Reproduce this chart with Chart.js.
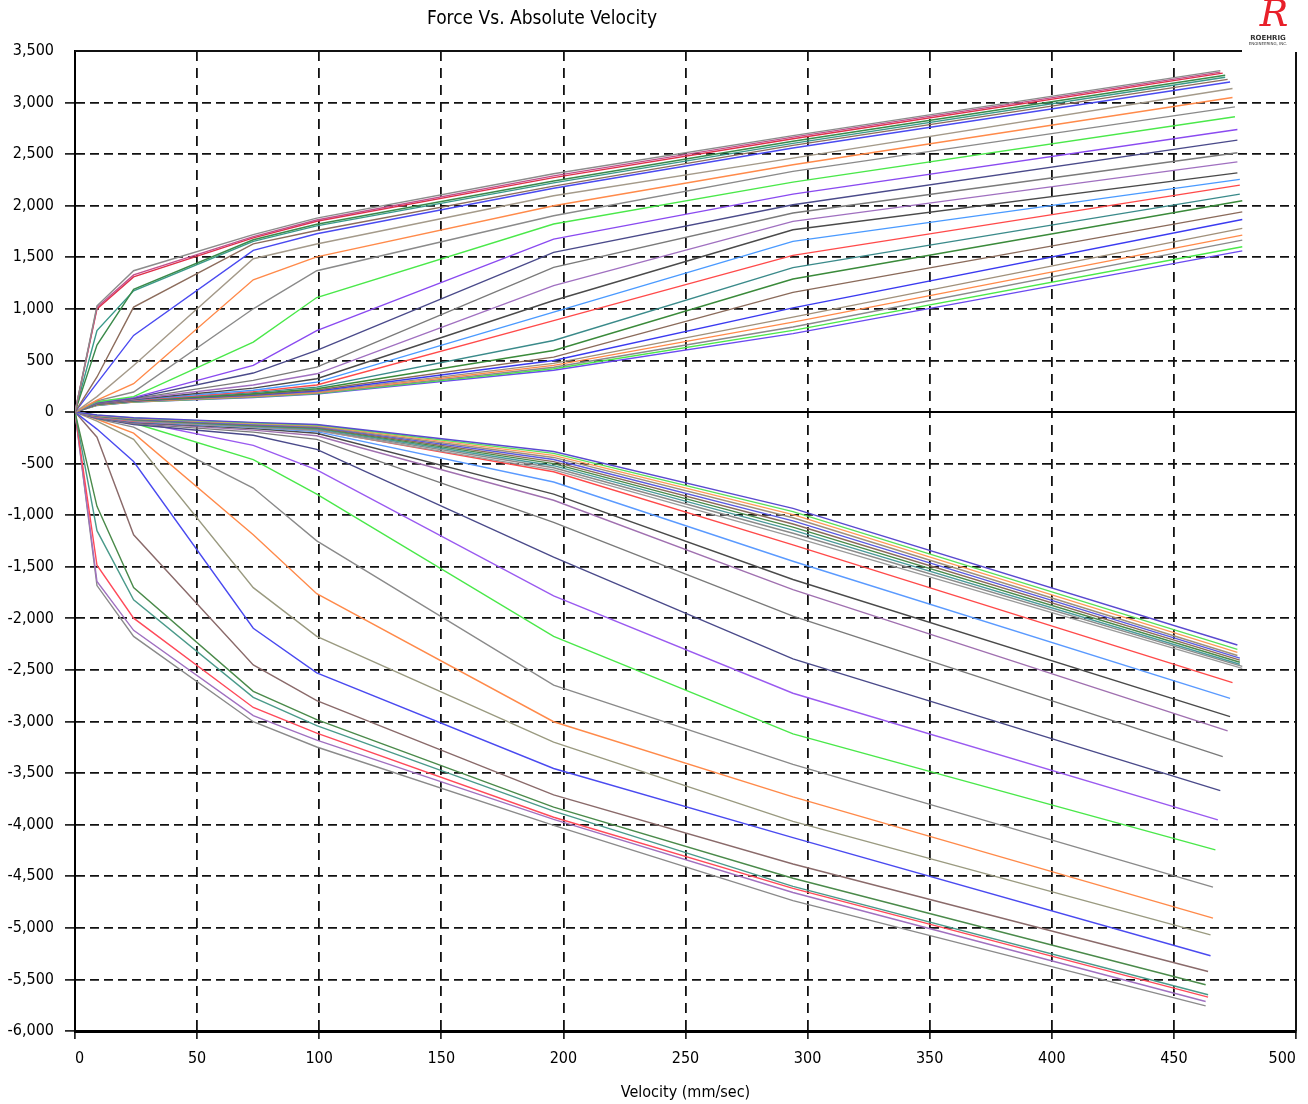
<!DOCTYPE html>
<html>
<head>
<meta charset="utf-8">
<title>Force Vs. Absolute Velocity</title>
<script src="https://cdn.jsdelivr.net/npm/chart.js@4.4.1/dist/chart.umd.min.js"></script>
<style>
  html, body { margin: 0; padding: 0; background: #fff; }
  #wrap { width: 1308px; height: 1104px; }
</style>
</head>
<body>
<div id="wrap"><canvas id="g_force" width="1308" height="1104"></canvas></div>
<script>
// sample velocities (mm/sec) shared by every curve; the last point of each curve has its own velocity
const velocities = [0, 9, 24, 73, 99, 196, 294]

// rebound side (positive force), stiffest setting first
const reboundForce = [
    [0, 1030, 1370, 1720, 1880, 2310, 2680, 3310],
    [0, 1015, 1330, 1700, 1862, 2290, 2665, 3295],
    [0, 1000, 1310, 1688, 1850, 2272, 2650, 3285],
    [0, 650, 1190, 1670, 1820, 2240, 2625, 3265],
    [0, 790, 1175, 1655, 1805, 2222, 2605, 3245],
    [0, 340, 1017, 1631, 1760, 2190, 2585, 3225],
    [0, 280, 743, 1567, 1728, 2170, 2560, 3200],
    [0, 150, 452, 1486, 1629, 2097, 2462, 3137],
    [0, 115, 275, 1282, 1505, 2000, 2397, 3049],
    [0, 108, 194, 1001, 1370, 1903, 2333, 2958],
    [0, 100, 150, 678, 1110, 1823, 2229, 2862],
    [0, 96, 140, 452, 790, 1677, 2113, 2739],
    [0, 93, 135, 378, 598, 1548, 2010, 2636],
    [0, 90, 130, 307, 435, 1403, 1929, 2513],
    [0, 88, 126, 262, 371, 1226, 1848, 2425],
    [0, 86, 122, 232, 323, 1081, 1767, 2319],
    [0, 84, 118, 212, 290, 968, 1655, 2255],
    [0, 82, 115, 198, 262, 887, 1519, 2200],
    [0, 80, 112, 188, 242, 694, 1400, 2112],
    [0, 78, 110, 178, 226, 597, 1290, 2048],
    [0, 76, 108, 170, 214, 532, 1160, 1941],
    [0, 74, 106, 164, 204, 500, 1010, 1867],
    [0, 72, 104, 158, 196, 472, 920, 1780],
    [0, 70, 102, 153, 189, 452, 872, 1715],
    [0, 68, 100, 149, 183, 434, 825, 1667],
    [0, 66, 98, 145, 179, 420, 792, 1602],
    [0, 64, 96, 141, 175, 405, 760, 1563]
]
const reboundEndVelocity = [469, 469, 470, 471, 471, 472, 473, 474, 474, 475, 475, 476, 476, 476,
    476, 476, 477, 477, 477, 478, 478, 478, 478, 478, 478, 478, 478]
const reboundColors = ["#8c8c8c", "#c2508c", "#e0304a", "#3a8a4a", "#3a9a8a", "#8c6c5c", "#4a4af0",
    "#a49a8a", "#ff8a4a", "#8a8a8a", "#4ae84a", "#8a4af0", "#4a4a8a", "#7a7a7a", "#a070c0",
    "#4a4a4a", "#4a9aff", "#ff4a4a", "#3a8a8a", "#3a8a3a", "#8a6a5a", "#3a3af0", "#a0907a",
    "#ff8a4a", "#8a8a8a", "#4ae84a", "#6a4af0"]

// compression side (negative force), softest setting first
const compressionForce = [
    [0, -28, -55, -100, -120, -382, -934, -2258],
    [0, -30, -58, -105, -126, -400, -965, -2300],
    [0, -32, -61, -110, -132, -420, -995, -2330],
    [0, -33, -64, -115, -138, -440, -1025, -2360],
    [0, -35, -67, -120, -144, -460, -1055, -2385],
    [0, -36, -70, -125, -150, -480, -1085, -2405],
    [0, -38, -73, -130, -156, -500, -1115, -2425],
    [0, -40, -76, -135, -162, -520, -1145, -2445],
    [0, -42, -80, -140, -170, -540, -1175, -2465],
    [0, -44, -84, -148, -180, -560, -1210, -2485],
    [0, -48, -90, -140, -175, -579, -1288, -2623],
    [0, -50, -95, -150, -190, -678, -1446, -2775],
    [0, -52, -100, -160, -205, -796, -1623, -2952],
    [0, -54, -105, -175, -230, -855, -1722, -3091],
    [0, -56, -112, -195, -265, -1070, -1978, -3340],
    [0, -60, -120, -225, -362, -1407, -2392, -3670],
    [0, -62, -87, -323, -560, -1781, -2726, -3954],
    [0, -64, -106, -461, -796, -2175, -3120, -4244],
    [0, -66, -146, -737, -1249, -2648, -3416, -4606],
    [0, -70, -205, -1190, -1761, -3002, -3731, -4906],
    [0, -87, -264, -1702, -2175, -3199, -3968, -5068],
    [0, -165, -480, -2096, -2529, -3455, -4125, -5271],
    [0, -244, -1190, -2451, -2797, -3711, -4381, -5423],
    [0, -914, -1702, -2707, -2982, -3830, -4519, -5552],
    [0, -1150, -1820, -2766, -3040, -3869, -4598, -5649],
    [0, -1485, -1998, -2864, -3113, -3928, -4618, -5672],
    [0, -1643, -2116, -2943, -3180, -3948, -4657, -5714],
    [0, -1682, -2175, -3002, -3247, -4007, -4736, -5756]
]
const compressionEndVelocity = [476, 476, 476, 476, 477, 477, 477, 477, 478, 478, 474, 473, 473, 472,
    470, 469, 468, 467, 466, 466, 465, 465, 464, 463, 464, 464, 463, 463]
const compressionColors = ["#5a4ad0", "#5ae05a", "#ff9a5a", "#a0907a", "#5a5ae0", "#8a6a5a", "#4a8a4a",
    "#4a9a9a", "#8a8a8a", "#9a9a9a", "#ff4a4a", "#5a9aff", "#4a4a4a", "#a070b0", "#7a7a7a",
    "#4a4a8a", "#9a5af0", "#4ae84a", "#8a8a8a", "#ff8a4a", "#9a9a80", "#4a4af0", "#8a6a6a",
    "#4a8a4a", "#4a9a8a", "#ff4a5a", "#a070c0", "#8a8a8a"]

const yTickMax = 3500
const yTickMin = -6000

const FONT = '"DejaVu Sans Condensed", "Liberation Sans Narrow", "DejaVu Sans", sans-serif'

function curve(forces, endVelocity, color) {
    return {
        data: forces.map((f, i) => ({ x: i < velocities.length ? velocities[i] : endVelocity, y: f })),
        borderColor: color,
        borderWidth: 1.4,
        pointRadius: 0,
        showLine: true,
        fill: false,
        tension: 0
    }
}

const datasets = []
reboundForce.forEach((f, i) => datasets.push(curve(f, reboundEndVelocity[i], reboundColors[i])))
compressionForce.forEach((f, i) => datasets.push(curve(f, compressionEndVelocity[i], compressionColors[i])))

// title, logo and the solid frame on the top/right of the plot
const decorations = {
    id: "decorations",
    afterDraw(chart) {
        const { ctx, chartArea } = chart
        ctx.save()
        ctx.strokeStyle = "#111"
        ctx.lineWidth = 2
        ctx.beginPath()
        ctx.moveTo(chartArea.left, chartArea.top)
        ctx.lineTo(chartArea.right - 54, chartArea.top)
        ctx.moveTo(chartArea.right, chartArea.top + 1)
        ctx.lineTo(chartArea.right, chartArea.bottom)
        ctx.stroke()

        ctx.fillStyle = "#000"
        ctx.textAlign = "center"
        ctx.textBaseline = "middle"
        ctx.font = "19px " + FONT
        ctx.fillText("Force Vs. Absolute Velocity", 542, 19)

        ctx.fillStyle = "#e8202a"
        ctx.font = 'italic 38px "DejaVu Serif", serif'
        ctx.fillText("R", 1274, 16)
        ctx.fillStyle = "#333"
        ctx.font = 'bold 7px "DejaVu Sans", sans-serif'
        ctx.fillText("ROEHRIG", 1268, 38)
        ctx.font = '4px "DejaVu Sans", sans-serif'
        ctx.fillText("ENGINEERING, INC.", 1268, 44)
        ctx.restore()
    }
}

const g_force = document.getElementById("g_force")

new Chart(g_force, {
    type: "scatter",
    data: { datasets: datasets },
    options: {
        responsive: false,
        animation: false,
        layout: { padding: { top: 51, right: 12, left: 0, bottom: 0 } },
        plugins: {
            legend: { display: false },
            tooltip: { enabled: false },
            title: { display: false }
        },
        scales: {
            x: {
                type: "linear",
                min: 0,
                max: 500,
                z: 1,
                afterFit: (s) => { s.height = 73; s.paddingRight = 0; s.paddingLeft = 0 },
                ticks: { stepSize: 50, align: "inner", color: "#000", padding: 10, font: { family: FONT, size: 16 } },
                grid: {
                    color: (c) => (c.tick && (c.tick.value === 0 || c.tick.value === 500)) ? "rgba(0,0,0,0)" : "#111",
                    lineWidth: 1.8,
                    tickLength: 8,
                    tickColor: "#000",
                    tickWidth: 1.5
                },
                border: { display: true, color: "#000", width: 3, dash: [10, 7] },
                title: {
                    display: true,
                    text: "Velocity (mm/sec)",
                    color: "#000",
                    font: { family: FONT, size: 16 },
                    padding: { top: 4, bottom: 2 }
                }
            },
            y: {
                type: "linear",
                min: yTickMin,
                max: yTickMax,
                z: 1,
                afterFit: (s) => { s.width = 75 },
                ticks: { stepSize: 500, color: "#000", padding: 11, font: { family: FONT, size: 16 } },
                grid: {
                    color: (c) => {
                        if (!c.tick) return "#111"
                        if (c.tick.value === yTickMax || c.tick.value === yTickMin) return "rgba(0,0,0,0)"
                        return c.tick.value === 0 ? "#000" : "#111"
                    },
                    lineWidth: (c) => (c.tick && c.tick.value === 0) ? 2 : 1.8,
                    tickLength: 10,
                    tickColor: (c) => (c.tick && c.tick.value === yTickMax) ? "rgba(0,0,0,0)" : "#000",
                    tickWidth: 1.5
                },
                border: {
                    display: true,
                    color: "#000",
                    width: 2,
                    dash: (c) => (c.tick && c.tick.value === 0) ? [] : [9, 5]
                }
            }
        }
    },
    plugins: [decorations]
})
</script>
</body>
</html>
